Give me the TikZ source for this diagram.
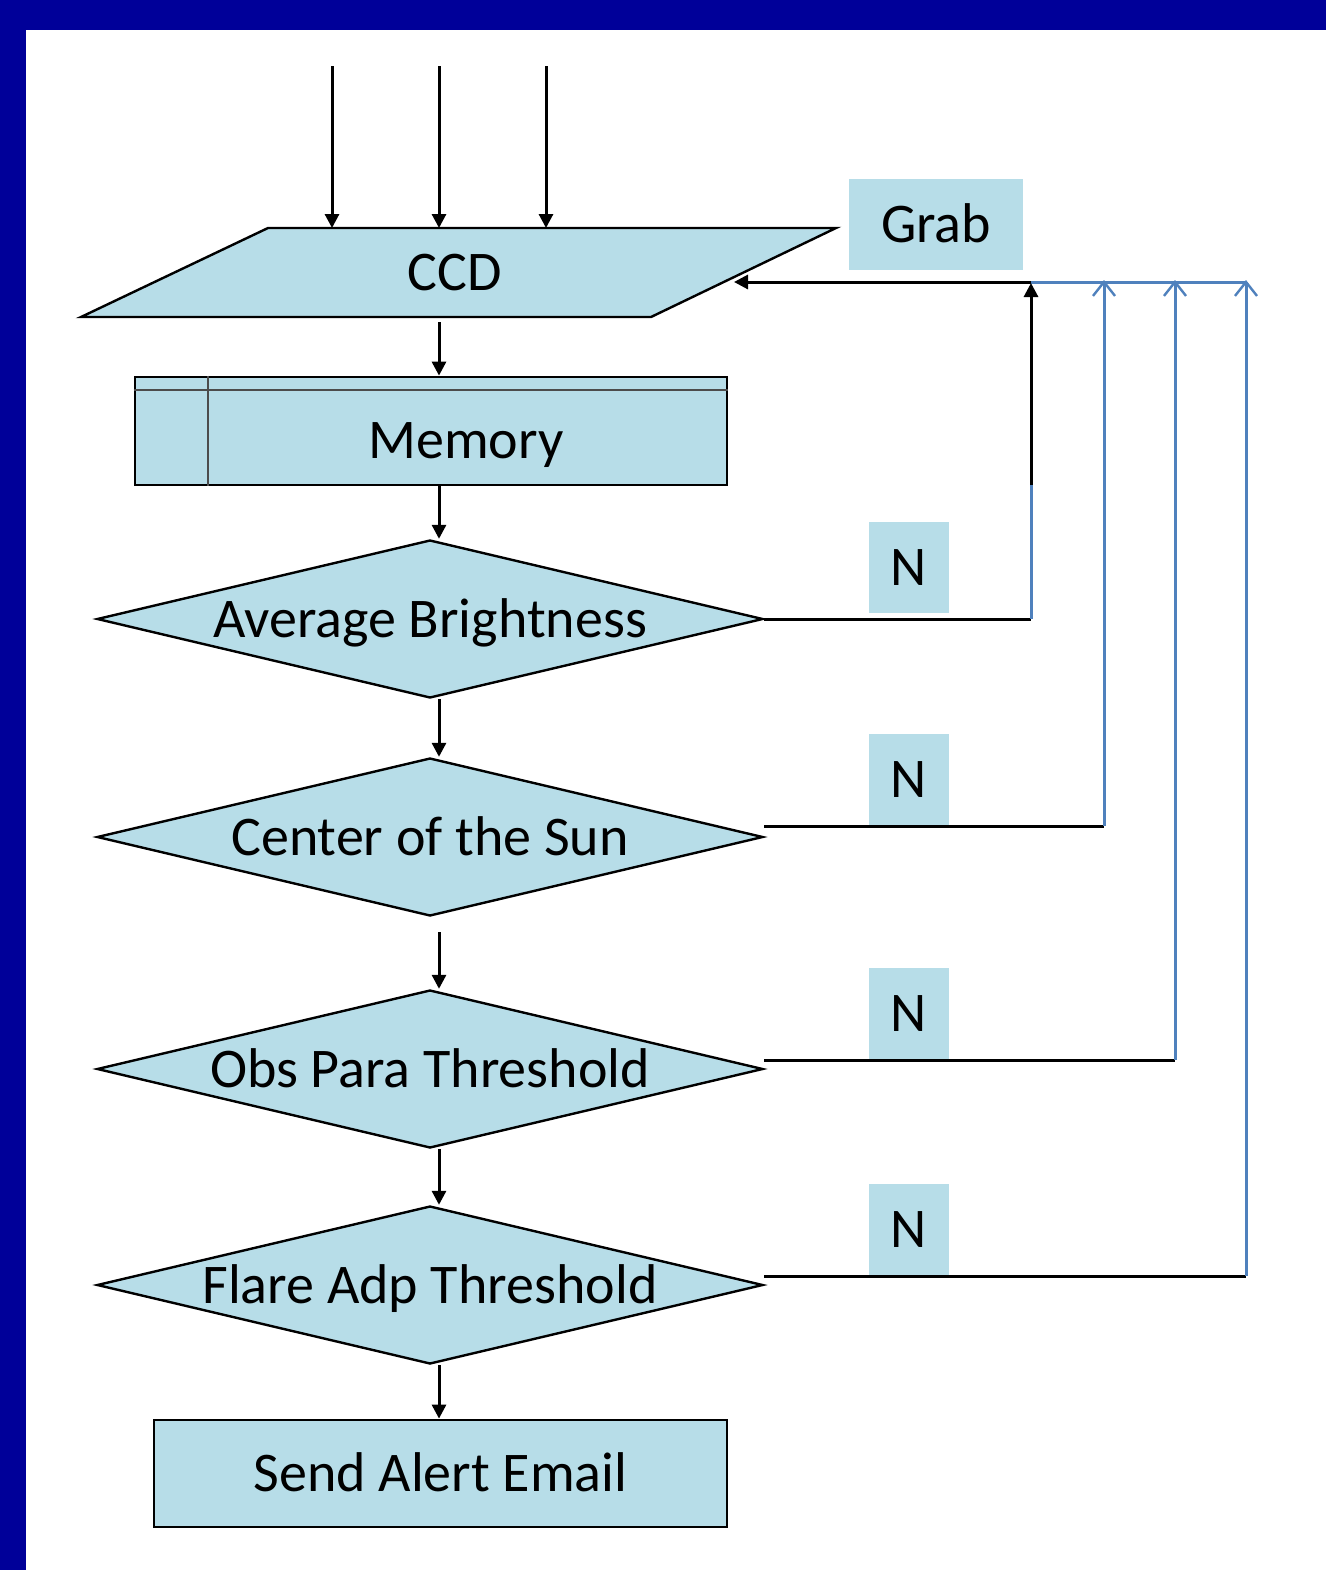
\documentclass[tikz,border=0pt]{standalone}
\usepackage{fontspec}
\setmainfont{Carlito}
\usepackage{tikz}
\usetikzlibrary{arrows.meta,positioning,calc,shapes.geometric}
\definecolor{cFrame}{HTML}{000099}
\definecolor{cFill}{HTML}{B7DDE8}
\definecolor{cLoop}{HTML}{4F81BD}
\tikzset{
  bfont/.style={font=\fontsize{28}{32}\selectfont,text height=18pt,text depth=0pt,inner sep=0pt},
  procbox/.style={draw=black,fill=cFill,line width=1.4pt,bfont},
  iobox/.style={draw=black,fill=cFill,line width=1.2pt},
  decide/.style={diamond,aspect=4.2,draw=black,fill=cFill,line width=1.2pt,bfont,minimum width=333pt,minimum height=79pt},
  tag/.style={fill=cFill,bfont,minimum width=#1,minimum height=45.5pt},
  tag/.default=40pt,
  arr/.style={-{Triangle[length=7pt,width=7pt]},line width=1.5pt},
  ret/.style={line width=1.5pt},
  loopline/.style={line width=1.5pt,color=cLoop},
  looparr/.style={loopline,-{Straight Barb[length=7pt,width=11pt,line width=1.2pt]}},
  memline/.style={line width=1pt,color=black!70},
}
\begin{document}
\begin{tikzpicture}[x=0.5pt,y=-0.5pt]
  \useasboundingbox (0,0) rectangle (1326,1570);
  \fill[cFrame] (0,0) rectangle (1326,1570);
  \fill[white] (26,30) rectangle (1326,1570);
  % main column
  \coordinate (spine) at (439,0);
  \coordinate (ccdTL) at (268,228); \coordinate (ccdTR) at (836,228);
  \coordinate (ccdBR) at (651,317); \coordinate (ccdBL) at (81,317);
  \draw[iobox] (ccdTL) -- (ccdTR) -- (ccdBR) -- (ccdBL) -- cycle;
  \node[bfont] (ccd) at (455,272) {CCD};
  \node[procbox,minimum width=296pt,minimum height=54pt] (mem) at (431,431) {};
  \draw[memline] ($(mem.north west)+(0,14)$) -- ($(mem.north east)+(0,14)$);
  \draw[memline] ($(mem.north west)+(74,0)$) -- ($(mem.south west)+(74,0)$);
  \node[bfont] (memtxt) at (466,440) {Memory};
  \node[decide] (avg) at (430,619) {Average Brightness};
  \node[decide] (sun) at (430,837) {Center of the Sun};
  \node[decide] (obs) at (430,1069) {Obs Para Threshold};
  \node[decide] (flare) at (430,1285) {Flare Adp Threshold};
  \node[procbox,minimum width=286.5pt,minimum height=53.5pt] (mail) at (440.5,1473.5) {Send Alert Email};
  % labels
  \node[tag=87pt] (grab) at (936,224.5) {Grab};
  \node[tag] (n1) at (909,567) {N};
  \node[tag] (n2) at (909,779) {N};
  \node[tag] (n3) at (909,1013) {N};
  \node[tag] (n4) at (909,1229) {N};
  % inputs
  \foreach \x/\nm in {332/ina,439/inb,546/inc}{
    \coordinate (\nm) at (\x,66);
    \draw[arr] (\nm) -- (\nm |- ccdTL);
  }
  \draw[arr] ([yshift=-2.5pt]spine |- ccdBL) -- (spine |- mem.north);
  \draw[arr] (spine |- mem.south) -- (spine |- avg.north);
  \draw[arr] (spine |- avg.south) -- (spine |- sun.north);
  \draw[arr] ([yshift=-7.5pt]spine |- sun.south) -- (spine |- obs.north);
  \draw[arr] (spine |- obs.south) -- (spine |- flare.north);
  \draw[arr] (spine |- flare.south) -- (spine |- mail.north);
  % loop back to grab
  \coordinate (bus) at (1031,282);
  \coordinate (ccdR) at (734,282);
  \coordinate (bend) at (1031,485);
  \draw[arr] (bus) -- (ccdR);
  \draw[loopline] (bus) -- (1246,282);
  \draw[ret] (avg.east) -- (avg.east -| bus);
  \draw[loopline] (avg.east -| bus) -- (bend);
  \draw[arr] (bend) -- ([yshift=-0.5pt]bus);
  \foreach \src/\x/\y in {sun/1104/826,obs/1175/1060,flare/1246/1276}{
    \draw[ret] (\src.east |- 0,\y) -- (\x,\y);
    \draw[looparr] (\x,\y) -- (\x,280);
  }
\end{tikzpicture}
\end{document}
